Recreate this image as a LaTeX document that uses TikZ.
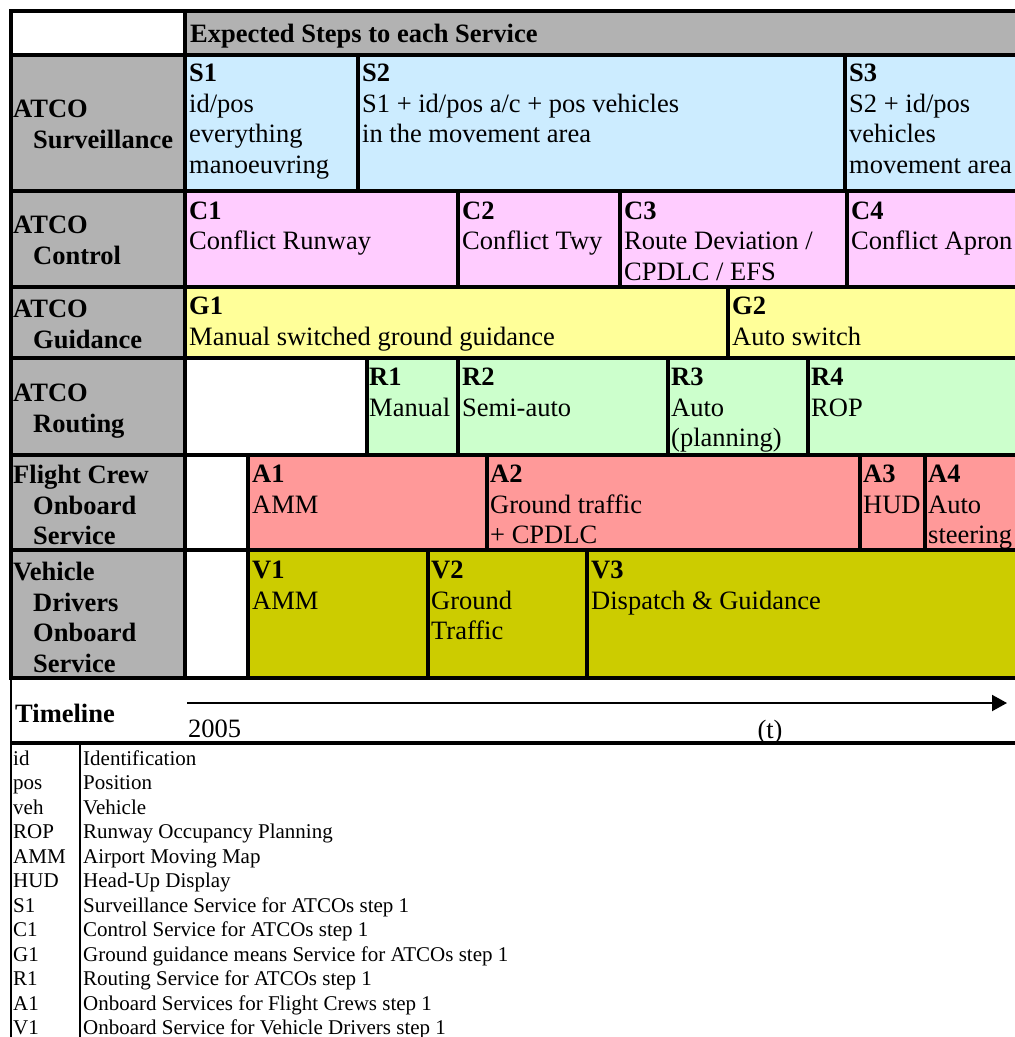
\documentclass[tikz,border=0pt]{standalone}
\usepackage{fontspec}
\setmainfont{Liberation Serif}
\usepackage{xcolor}
\usetikzlibrary{arrows.meta}
\definecolor{labgray}{HTML}{B2B2B2}
\definecolor{survblue}{HTML}{CCECFF}
\definecolor{ctrlpink}{HTML}{FFCCFF}
\definecolor{guidyellow}{HTML}{FFFF99}
\definecolor{routgreen}{HTML}{CCFFCC}
\definecolor{crewred}{HTML}{FF9999}
\definecolor{vehyellow}{HTML}{CCCC00}
\newcommand{\cellfont}{\fontsize{26.5}{30.5}\selectfont}
\newcommand{\legfont}{\fontsize{21}{24.5}\selectfont}

\begin{document}
\begin{tikzpicture}[x=1pt,y=-1pt,
      grid/.style={draw=black,line width=3.5pt},
      thinrule/.style={draw=black,line width=2pt},
      txt/.style={anchor=north west,align=left,inner sep=0pt,font=\cellfont},
      rowlabel/.style={txt,font=\cellfont\bfseries},
      legtxt/.style={anchor=base west,inner sep=0pt,font=\legfont},
      timearrow/.style={-{Triangle[length=15pt,width=16pt]},line width=2pt}]
      \useasboundingbox[fill=white] (0,0) rectangle (1015,1037);
      % header row
      \draw[grid] (11,11) rectangle (185,55);
      \draw[grid,fill=labgray] (185,11) rectangle (1025,55);
      \node[rowlabel,anchor=base west] (head) at (190,42) {Expected Steps to each Service};
      % row labels
      \foreach \a/\b in {55/191,191/287,287/358,358/455,455/550,550/678}
        \draw[grid,fill=labgray] (11,\a) rectangle (185,\b);
      \node[rowlabel] (surv) at (13,100) {ATCO\\\hspace*{20pt}Surveillance};
      \node[rowlabel] (ctrl) at (13,216) {ATCO\\\hspace*{20pt}Control};
      \node[rowlabel] (guid) at (13,300) {ATCO\\\hspace*{20pt}Guidance};
      \node[rowlabel] (rout) at (13,384) {ATCO\\\hspace*{20pt}Routing};
      \node[rowlabel] (crew) at (13,465) {Flight Crew\\\hspace*{20pt}Onboard\\\hspace*{20pt}Service};
      \node[rowlabel] (veh) at (13,562) {Vehicle\\\hspace*{20pt}Drivers\\\hspace*{20pt}Onboard\\\hspace*{20pt}Service};
      % surveillance
      \draw[grid,fill=survblue] (185,55) rectangle (358,191) (358,55) rectangle (845,191) (845,55) rectangle (1025,191);
      \node[txt] (s1) at (189,64) {\textbf{S1}\\id/pos\\everything\\manoeuvring};
      \node[txt] (s2) at (362,64) {\textbf{S2}\\S1 + id/pos a/c + pos vehicles\\in the movement area};
      \node[txt] (s3) at (849,64) {\textbf{S3}\\S2 + id/pos\\vehicles\\movement area};
      % control
      \draw[grid,fill=ctrlpink] (185,191) rectangle (458,287) (458,191) rectangle (620,287) (620,191) rectangle (847,287) (847,191) rectangle (1025,287);
      \node[txt] (c1) at (189,201.5) {\textbf{C1}\\Conflict Runway};
      \node[txt] (c2) at (462,201.5) {\textbf{C2}\\Conflict Twy};
      \node[txt] (c3) at (624,201.5) {\textbf{C3}\\Route Deviation /\\CPDLC / EFS};
      \node[txt] (c4) at (851,201.5) {\textbf{C4}\\Conflict Apron};
      % guidance
      \draw[grid,fill=guidyellow] (185,287) rectangle (728,358) (728,287) rectangle (1025,358);
      \node[txt] (g1) at (189,297) {\textbf{G1}\\Manual switched ground guidance};
      \node[txt] (g2) at (732,297) {\textbf{G2}\\Auto switch};
      % routing
      \draw[grid,fill=white] (185,358) rectangle (367,455);
      \draw[grid,fill=routgreen] (367,358) rectangle (458,455) (458,358) rectangle (668,455) (668,358) rectangle (808,455) (808,358) rectangle (1025,455);
      \node[txt] (r1) at (369,368) {\textbf{R1}\\Manual};
      \node[txt] (r2) at (462,368) {\textbf{R2}\\Semi-auto};
      \node[txt] (r3) at (671,368) {\textbf{R3}\\Auto\\(planning)};
      \node[txt] (r4) at (811,368) {\textbf{R4}\\ROP};
      % flight crew
      \draw[grid,fill=white] (185,455) rectangle (248,550);
      \draw[grid,fill=crewred] (248,455) rectangle (487,550) (487,455) rectangle (860,550) (860,455) rectangle (925,550) (925,455) rectangle (1025,550);
      \node[txt] (a1) at (252,465) {\textbf{A1}\\AMM};
      \node[txt] (a2) at (490,465) {\textbf{A2}\\Ground traffic\\+ CPDLC};
      \node[txt] (a3) at (863,465) {\textbf{A3}\\HUD};
      \node[txt] (a4) at (928,465) {\textbf{A4}\\Auto\\steering};
      % vehicle drivers
      \draw[grid,fill=white] (185,550) rectangle (248,678);
      \draw[grid,fill=vehyellow] (248,550) rectangle (428,678) (428,550) rectangle (587,678) (587,550) rectangle (1025,678);
      \node[txt] (v1) at (252,561) {\textbf{V1}\\AMM};
      \node[txt] (v2) at (431,561) {\textbf{V2}\\Ground\\Traffic};
      \node[txt] (v3) at (591,561) {\textbf{V3}\\Dispatch \& Guidance};
      % timeline
      \draw[thinrule] (10.5,678) -- (10.5,1040);
      \node[rowlabel,anchor=base west] (timeline) at (15,722) {Timeline};
      \coordinate (tstart) at (187,703);
      \coordinate (tend) at (1007,703);
      \draw[timearrow] (tstart) -- (tend);
      \node[txt,anchor=base west] (year) at (188,737) {2005};
      \node[txt,anchor=base] (tlabel) at (770,738) {(t)};
      \draw[grid] (11,743) -- (1025,743);
      % legend
      \draw[thinrule] (80,743) -- (80,1040);
      \foreach \abbr/\desc [count=\i from 0] in {id/Identification,pos/Position,veh/Vehicle,
          ROP/Runway Occupancy Planning,AMM/Airport Moving Map,HUD/Head-Up Display,
          S1/Surveillance Service for ATCOs step 1,C1/Control Service for ATCOs step 1,
          G1/Ground guidance means Service for ATCOs step 1,R1/Routing Service for ATCOs step 1,
          A1/Onboard Services for Flight Crews step 1,V1/Onboard Service for Vehicle Drivers step 1}{
        \node[legtxt] (abbr\i) at (13,{765+24.5*\i}) {\abbr};
        \node[legtxt] (desc\i) at (83,{765+24.5*\i}) {\desc};
      }
    \end{tikzpicture}
\end{document}
